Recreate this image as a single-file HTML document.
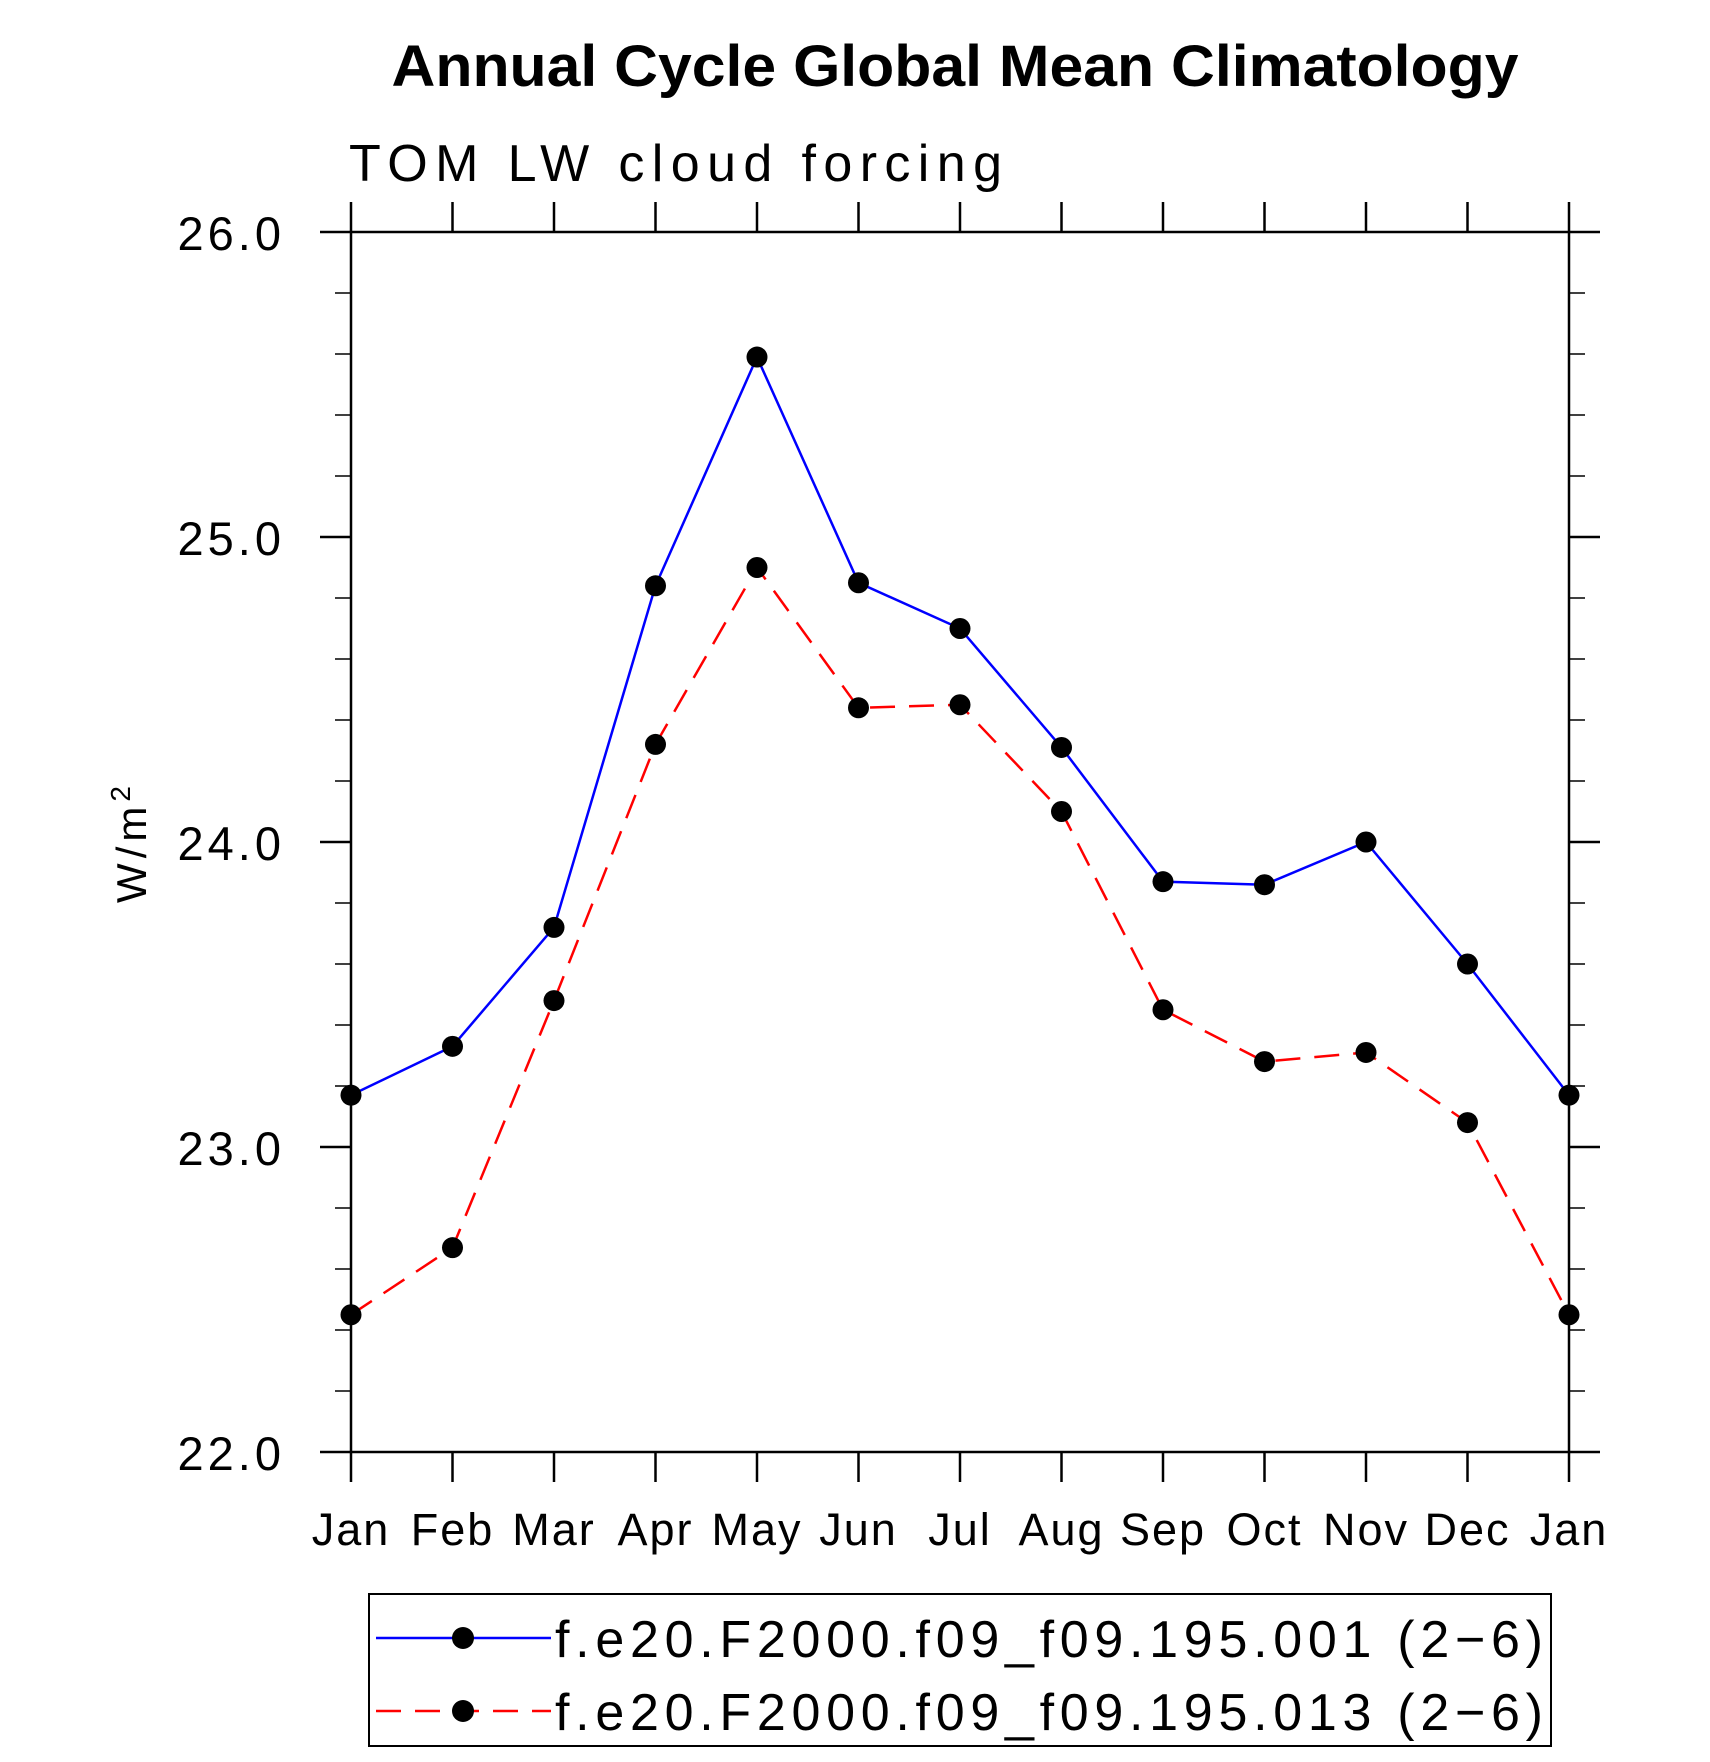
<!DOCTYPE html>
<html><head><meta charset="utf-8"><style>
html,body{margin:0;padding:0;background:#fff;}
svg{display:block;font-family:"Liberation Sans",sans-serif;}
</style></head><body>
<svg id="chart" width="1710" height="1762" viewBox="0 0 1710 1762">
<text x="955" y="86" text-anchor="middle" font-size="58" font-weight="bold" textLength="1127" lengthAdjust="spacingAndGlyphs">Annual Cycle Global Mean Climatology</text>
<text x="349" y="181" font-size="52" textLength="653" lengthAdjust="spacing" font-weight="300">TOM LW cloud forcing</text>
<text transform="translate(146,842) rotate(-90)" text-anchor="middle" font-size="42" letter-spacing="5">W/m<tspan dy="-16" font-size="28">2</tspan></text>
<g id="axes"></g>
<g id="series"></g>
<g>
<rect x="369" y="1594" width="1182" height="152" fill="none" stroke="#000" stroke-width="2"/>
<g>
<line x1="376" y1="1638" x2="551" y2="1638" stroke="#00f" stroke-width="2.5"/>
<circle cx="463" cy="1638" r="11" fill="#000"/>
<text x="555" y="1657" font-size="52" textLength="988" lengthAdjust="spacing">f.e20.F2000.f09_f09.195.001 (2−6)</text>
</g>
<g>
<line x1="376" y1="1711" x2="551" y2="1711" stroke="#f00" stroke-width="2.5" stroke-dasharray="25,14"/>
<circle cx="463" cy="1711" r="11" fill="#000"/>
<text x="555" y="1730" font-size="52" textLength="988" lengthAdjust="spacing">f.e20.F2000.f09_f09.195.013 (2−6)</text>
</g>
</g>
</svg>
<script>
const months = ["Jan","Feb","Mar","Apr","May","Jun","Jul","Aug","Sep","Oct","Nov","Dec","Jan"];
const series001 = [23.17,23.33,23.72,24.84,25.59,24.85,24.70,24.31,23.87,23.86,24.00,23.60,23.17];
const series013 = [22.45,22.67,23.48,24.32,24.90,24.44,24.45,24.10,23.45,23.28,23.31,23.08,22.45];
const yTicks = ["22.0","23.0","24.0","25.0","26.0"];
const yMin = 22, yMax = 26;

const NS = "http://www.w3.org/2000/svg";
const L = 351, R = 1569, T = 232, B = 1452;
const xs = i => L + (R - L) * i / (months.length - 1);
const ys = v => B - (B - T) * (v - yMin) / (yMax - yMin);
function mk(tag, attrs, parent) {
  const e = document.createElementNS(NS, tag);
  for (const k in attrs) e.setAttribute(k, attrs[k]);
  parent.appendChild(e);
  return e;
}
const axes = document.getElementById("axes");
const frame = mk("rect", {x:L, y:T, width:R-L, height:B-T, fill:"none", stroke:"#000", "stroke-width":2.5}, axes);


months.forEach((m, i) => {
  const x = xs(i);
  mk("line", {x1:x, y1:T, x2:x, y2:T-30, stroke:"#000", "stroke-width":2.5}, axes);
  mk("line", {x1:x, y1:B, x2:x, y2:B+30, stroke:"#000", "stroke-width":2.5}, axes);
  const t = mk("text", {x:x, y:1545, "text-anchor":"middle", "font-size":45, "letter-spacing":"2"}, axes);
  t.textContent = m;
  
  
});
for (let k = 0; k <= 20; k++) {
  const v = yMin + k * 0.2;
  const y = ys(v);
  const major = k % 5 === 0;
  const len = major ? 31 : 16;
  mk("line", {x1:L, y1:y, x2:L-len, y2:y, stroke:"#000", "stroke-width":major?2.5:1.5}, axes);
  mk("line", {x1:R, y1:y, x2:R+len, y2:y, stroke:"#000", "stroke-width":major?2.5:1.5}, axes);
}
yTicks.forEach(s => {
  const t = mk("text", {x:285, y:ys(parseFloat(s))+18, "text-anchor":"end", "font-size":47, "letter-spacing":"4"}, axes);
  t.textContent = s;
  
  
});
const sg = document.getElementById("series");
function drawSeries(vals, color, dash, name) {
  const g = mk("g", {}, sg);
  
  
  const pts = vals.map((v, i) => xs(i) + "," + ys(v)).join(" ");
  const pl = mk("polyline", {points:pts, fill:"none", stroke:color, "stroke-width":2.5}, g);
  if (dash) pl.setAttribute("stroke-dasharray", dash);
  vals.forEach((v, i) => {
    const c = mk("circle", {cx:xs(i), cy:ys(v), r:10.5, fill:"#000"}, g);
    
    
  });
}
drawSeries(series001, "#00f", null, "series-001-line");
drawSeries(series013, "#f00", "25,14", "series-013-line");
</script>
</body></html>
